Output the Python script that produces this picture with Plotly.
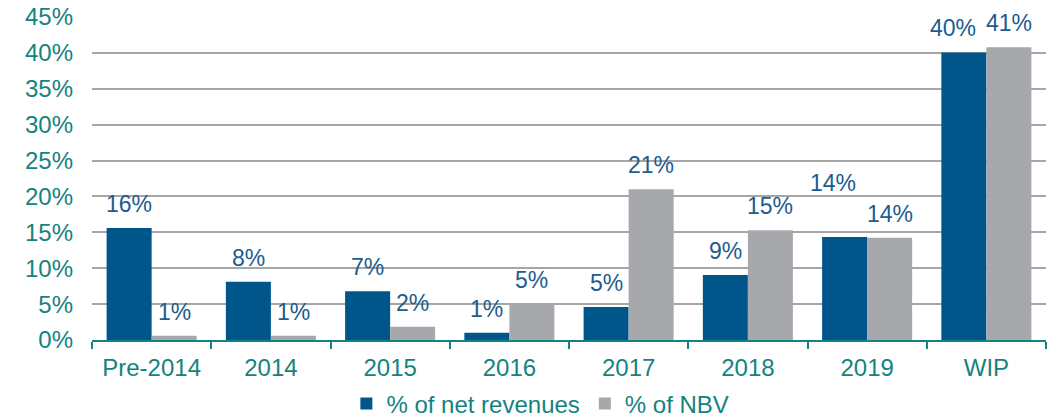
import plotly.graph_objects as go

categories = ["Pre-2014", "2014", "2015", "2016", "2017", "2018", "2019", "WIP"]
net_revenues = [15.6, 8.1, 6.8, 1.0, 4.6, 9.05, 14.35, 40.07]
nbv = [0.6, 0.6, 1.85, 5.0, 21.0, 15.3, 14.25, 40.8]
y_ticks = [0, 5, 10, 15, 20, 25, 30, 35, 40, 45]

BLUE = "#00558A"
GREY = "#A7A8AB"
TEAL = "#13837F"
LABEL = "#1C5C8F"
FONT = "Liberation Sans, Arial, sans-serif"
FS = 24
FS_LABEL = 23

fig = go.Figure()
fig.add_trace(go.Bar(x=categories, y=net_revenues, name="% of net revenues",
                     marker=dict(color=BLUE, line=dict(width=0))))
fig.add_trace(go.Bar(x=categories, y=nbv, name="% of NBV",
                     marker=dict(color=GREY, line=dict(width=0))))

# label nudges (style only): extra (xshift, yshift) per series/category
extra = {(0, "2019"): (-12, 30), (0, "WIP"): (-11, 0)}
half_bar = 22.5
for si, vals in enumerate([net_revenues, nbv]):
    for j, (c, v) in enumerate(zip(categories, vals)):
        dx, dy = extra.get((si, c), (0, 0))
        fig.add_annotation(x=j, y=v, text=f"{round(v):d}%", showarrow=False,
                           xshift=(-half_bar if si == 0 else half_bar) + dx,
                           yshift=24 + dy, yanchor="middle",
                           font=dict(family=FONT, size=FS_LABEL, color=LABEL))

fig.update_layout(
    width=1055, height=410,
    margin=dict(l=84, r=17, t=9, b=78, autoexpand=False),
    paper_bgcolor="white", plot_bgcolor="white",
    barmode="group", bargap=0.245, bargroupgap=0,
    font=dict(family=FONT, size=FS, color=TEAL),
    legend=dict(orientation="h", x=0.47, xanchor="center", y=-0.198, yanchor="middle",
                font=dict(family=FONT, size=FS, color=TEAL), itemwidth=30),
    showlegend=True,
)
fig.update_yaxes(range=[0, 45], tickvals=y_ticks, ticktext=[f"{t}%" for t in y_ticks],
                 showgrid=True, gridcolor="#A6A6A6", gridwidth=2,
                 showline=False, zeroline=False, ticks="",
                 tickfont=dict(family=FONT, size=FS, color=TEAL),
                 ticklabelstandoff=18, ticklabeloverflow="allow", automargin=False)
fig.update_xaxes(type="category", range=[-0.5, len(categories) - 0.5],
                 showline=True, linecolor=TEAL, linewidth=2,
                 ticks="outside", tickson="boundaries", ticklen=7, tickwidth=2, tickcolor=TEAL,
                 tickangle=0, tickfont=dict(family=FONT, size=FS, color=TEAL),
                 ticklabelstandoff=5, automargin=False)

fig.write_html("out.html")
